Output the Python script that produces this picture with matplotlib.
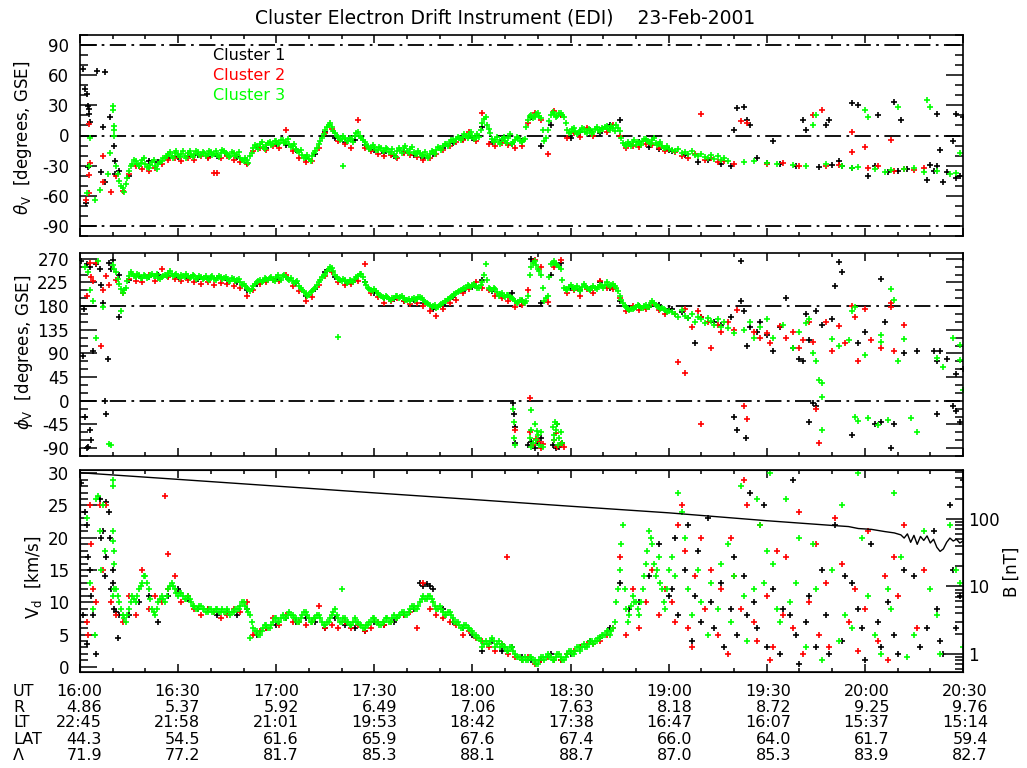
import numpy as np
import matplotlib
matplotlib.use("Agg")
import matplotlib.pyplot as plt
from matplotlib.ticker import MultipleLocator, LogLocator, NullFormatter, FuncFormatter

plt.rcParams["font.family"] = ["DejaVu Sans"]
plt.rcParams["axes.unicode_minus"] = False
plt.rcParams["mathtext.fontset"] = "dejavusans"

# ---------------------------------------------------------------------------
# data (minutes after 16:00 UT)
# ---------------------------------------------------------------------------
t_c3 = np.arange(10, 181, 1)       # Cluster 3 dense sampling
t_c3b = np.arange(10.5, 180, 1)    # Cluster 3, in-between samples
t_c2 = np.arange(11, 180, 2)       # Cluster 2
t_c1 = np.arange(12, 181, 3)       # Cluster 1

theta_c3 = [25, -30, -45, -52, -48, -35, -28, -25, -30, -24,
            -28, -32, -26, -30, -28, -25, -22, -18, -20, -17,
            -19, -18, -20, -17, -19, -18, -16, -19, -17, -18,
            -16, -18, -19, -17, -15, -18, -20, -17, -19, -22,
            -25, -24, -20, -12, -10, -8, -11, -9, -6, -8,
            -5, -7, -4, -6, -8, -10, -13, -16, -19, -21,
            -23, -20, -15, -8, -2, 5, 10, 8, 2, -1,
            -3, -2, -5, -3, 0, 3, -2, -6, -10, -12,
            -11, -14, -12, -15, -13, -16, -18, -15, -14, -12,
            -15, -13, -16, -18, -17, -19, -20, -18, -16, -14,
            -12, -10, -8, -6, -4, -3, -2, -1, 0, 1,
            0, -2, -1, 12, 18, 6, -3, -4, -6, -3,
            -5, -2, -8, -4, -2, -6, -3, 15, 20, 18,
            22, 17, -5, 5, 20, 21, 19, 22, 18, 5,
            3, 7, 1, 4, 6, 2, 5, 3, 8, 4,
            6, 9, 5, 7, 10, 4, -7, -10, -8, -6,
            -9, -7, -5, -3, -6, -4, -7, -8, -10, -12,
            -13]
theta_c3b = [5, -38, -50, -56, -42, -30, -24, -28, -27, -22,
             -31, -29, -24, -33, -26, -22, -20, -16, -22, -15,
             -21, -15, -22, -15, -21, -15, -19, -16, -20, -15,
             -19, -15, -21, -14, -17, -21, -16, -20, -16, -24,
             -22, -27, -17, -9, -13, -6, -13, -7, -9, -5,
             -8, -4, -7, -3, -11, -8, -15, -14, -22, -19,
             -25, -17, -12, -5, 1, 8, 12, 4, 0, -4,
             0, -5, -2, -6, 2, 0, -4, -9, -13, -9,
             -14, -11, -15, -12, -16, -13, -21, -12, -17, -10,
             -17, -11, -18, -15, -20, -16, -22, -15, -18, -11,
             -14, -8, -10, -4, -6, -1, -4, 1, -2, 3,
             -3, 1, 5, 16, 10, 2, -6, -1, -8, -1,
             -7, 1, -6, -1, -5, -4, 8, 19, 17, 21,
             19, 5, -2, 14, 23, 18, 22, 20, 12, 2,
             6, 4, 3, 7, 3, 6, 1, 6, 5, 7,
             8, 6, 9, 4, 7, -2, -9, -6, -10, -4,
             -6, -9, -3, -5, -8, -2, -9, -6, -12, -10]
theta_c2 = [-40, -55, -38, -30, -33, -35, -32, -28, -24, -22,
            -25, -22, -24, -20, -22, -37, -22, -20, -24, -26,
            -28, -15, -12, -14, -10, -12, 5, -15, -22, -26,
            -25, -12, 2, 6, -5, -8, -12, 15, -12, -15,
            -18, -20, -19, -22, -17, -19, -21, -24, -22, -18,
            -14, -10, -6, -4, 3, -5, 22, -8, -10, -7,
            -9, -12, -10, 12, 22, 15, -18, 24, 20, -2,
            2, -1, 7, 0, 5, 3, 10, 0, -12, -10,
            -11, -8, -9, -12, -15]
theta_c1 = [-35, -40, -30, -25, -26, -22, -21, -20, -19, -21,
            -20, -19, -21, -27, -11, -12, -8, -9, -14, -22,
            -18, 3, -2, -6, -4, -9, -14, -17, -20, -16,
            -19, -22, -18, -12, -7, -3, -2, 8, -6, -4,
            -8, -5, 18, -10, 10, 20, -2, 3, 5, 2,
            10, 15, -8, -6, -11, -13, -14]
theta_c3_extra = [(2, -57), (2.8, -30), (3, -2), (4.5, -64), (6, -54), (8.7, -38), (9.2, -17),
                  (10.2, 29), (10.4, 9), (10.5, 0), (80.5, -30),
                  (181, -14), (182, -15), (183, -13), (184, -17), (185, -16), (186, -18), (187, -15),
                  (188, -19), (189, -20), (190, -18), (191, -21), (192, -22), (193, -19), (194, -23),
                  (195, -20), (196, -24), (197, -22), (198, -25), (203, -26), (206, -25), (210, -27),
                  (213, -28), (218, -29), (222, -30), (224, 10), (225, 20), (228, -28), (233, -30),
                  (236, -32), (238, -31), (240, 25), (241, 18), (243, -33), (246, -36), (248, -34),
                  (250, 28), (252, -33), (255, -32), (258, -36), (259, 35), (260, 28), (262, -35),
                  (266, -38), (268, -37), (269, -17)]
theta_c2_extra = [(1.8, -64), (2.6, -57), (2.7, -39), (3, -27), (2.8, 11), (7, -46), (9.6, -56), (7, -20),
                  (42, -37), (182, -16), (184, -20), (186, -22), (188, -18), (190, 21), (191, -24),
                  (193, -22), (195, -26), (197, -25), (200, -28), (202, 14), (204, 12), (210, -28),
                  (215, -27), (220, -30), (224, 20), (227, 25), (228, -30), (232, -29), (236, 3),
                  (236, -16), (240, -11), (241, -32), (244, -30), (248, -4), (249, -35), (252, -33),
                  (255, -34), (258, -32)]
theta_c1_extra = [(1, 66), (1.5, 46), (2, 41), (2.3, 29), (2.6, 26), (2.9, 21), (3.2, 13), (5.2, 64),
                  (7.6, 63), (6.9, 8), (9.2, 18), (10.3, -10), (10.6, -25), (10.8, -38), (2.5, -31),
                  (1.8, -67), (6.3, -36), (7.6, -46), (181, -15), (185, -19), (189, -26), (192, -24),
                  (196, -28), (199, -30), (200, 5), (201, 27), (203, 28), (204, 15), (205, 10),
                  (207, -22), (210, -27), (212, -5), (214, -28), (219, -30), (221, 15), (222, 5),
                  (226, -31), (228, 10), (229, 15), (230, -29), (232, -25), (233, -30), (236, -32),
                  (236, 32), (238, 30), (241, -40), (243, -30), (244, 20), (247, -36), (249, 33),
                  (250, -35), (251, 15), (253, -33), (259, -44), (260, -29), (261, -35), (262, -30),
                  (262, 21), (263, -14), (264, -46), (265, -36), (267, -5), (268, -42), (268, 21),
                  (269, -40), (270, 18)]

phi_c3 = [258, 245, 222, 205, 215, 238, 242, 236, 240, 234,
          238, 236, 242, 238, 234, 236, 240, 243, 241, 239,
          237, 240, 236, 238, 235, 237, 233, 236, 234, 232,
          235, 232, 234, 236, 233, 231, 228, 232, 229, 225,
          222, 215, 208, 218, 225, 230, 228, 232, 234, 230,
          236, 233, 238, 235, 230, 228, 225, 218, 210, 205,
          202, 208, 215, 225, 235, 242, 250, 252, 240, 232,
          228, 230, 226, 228, 232, 238, 242, 225, 215, 210,
          212, 205, 200, 195, 198, 192, 196, 200, 198, 195,
          192, 190, 196, 194, 198, 192, 186, 182, 180, 176,
          182, 186, 190, 195, 200, 205, 208, 212, 215, 218,
          220, 218, 215, 225, 260, 215, 210, 212, 200, 205,
          198, 202, 195, 190, 188, 192, 185, 200, 255, 265,
          250, 240, 190, 200, 260, 265, 258, 250, 215, 210,
          220, 212, 218, 208, 222, 215, 210, 218, 212, 220,
          215, 225, 218, 222, 215, 200, 185, 178, 172, 175,
          178, 180, 176, 182, 178, 190, 182, 178, 176, 172,
          170]
phi_c3b = [250, 232, 212, 210, 228, 244, 237, 241, 233, 239,
           233, 240, 237, 242, 232, 238, 237, 246, 238, 242,
           234, 238, 241, 234, 239, 232, 238, 232, 237, 229,
           237, 230, 237, 231, 235, 227, 233, 228, 231, 221,
           218, 212, 212, 222, 228, 226, 233, 229, 236, 227,
           239, 230, 240, 232, 233, 224, 228, 214, 207, 200,
           206, 212, 220, 230, 238, 247, 254, 246, 236, 229,
           231, 224, 230, 226, 235, 241, 235, 220, 212, 208,
           208, 202, 197, 200, 193, 195, 199, 196, 200, 191,
           194, 193, 191, 198, 195, 188, 184, 178, 183, 179,
           184, 189, 193, 198, 203, 206, 211, 214, 220, 216,
           222, 214, 220, 240, 230, 212, 214, 206, 203, 200,
           201, 197, 193, 186, 191, 188, 190, 240, 262, 258,
           246, 215, 195, 235, 262, 261, 254, 230, 212, 216,
           216, 215, 212, 216, 218, 212, 215, 214, 217, 218,
           220, 221, 220, 218, 208, 192, 181, 175, 174, 177,
           182, 177, 180, 179, 186, 186, 180, 174, 174, 168]
phi_c2 = [230, 205, 232, 228, 225, 240, 228, 250, 235, 232,
          228, 230, 226, 222, 225, 220, 224, 222, 218, 215,
          200, 210, 222, 225, 230, 228, 240, 218, 208, 190,
          198, 220, 238, 245, 225, 220, 222, 228, 260, 205,
          198, 185, 190, 195, 190, 184, 185, 180, 170, 162,
          175, 185, 192, 205, 212, 225, 215, 210, 200, 195,
          190, 178, 182, 210, 268, 255, 188, 255, 268, 205,
          210, 200, 212, 205, 228, 215, 212, 195, 170, 180,
          172, 175, 185, 172, 165]
phi_c1 = [240, 230, 238, 236, 240, 238, 236, 234, 232, 232,
          233, 230, 226, 210, 222, 230, 232, 236, 224, 200,
          212, 245, 236, 228, 230, 226, 205, 195, 194, 190,
          192, 185, 175, 182, 198, 208, 216, 230, 208, 200,
          205, 190, 270, 185, 240, 262, 215, 210, 212, 225,
          215, 190, 175, 180, 178, 182, 175]
phi_c3_extra = [(1.5, 255), (2.5, 245), (3, 210), (4, 190), (5, 120), (5.5, 265), (7, 178), (9, -82),
                (9.5, -85), (12.5, 170), (79, 121),
                (132.5, -15), (132.8, -40), (132.6, -70), (133, -85), (137.5, -70), (138, -55),
                (138.5, -80), (139, -45), (139.5, -75), (140, -65), (140.5, -85), (141, -60),
                (141.5, -88), (137.8, -87), (139.8, -58), (138, -18), (144.5, -50), (145, -65),
                (145.5, -55), (146, -45), (146.5, -70), (147, -60), (147.5, -80), (145.2, -40),
                (146.2, -85), (144.8, -75),
                (181, 168), (182, 165), (183, 160), (184, 172), (185, 162), (186, 158), (187, 165),
                (188, 150), (189, 160), (190, 155), (191, 148), (192, 158), (193, 152), (194, 145),
                (195, 155), (196, 140), (197, 150), (198, 138), (200, 128), (203, 135), (205, 150),
                (206, 120), (208, 140), (210, 155), (212, 120), (215, 145), (218, 100), (220, 130),
                (222, 148), (223, 155), (224, 90), (225, 75), (226, 40), (227, 7), (227, 33),
                (227, -55), (230, 118), (232, 105), (235, 115), (236, 170), (237, 178), (237, -30),
                (238, -38), (240, 88), (241, -33), (244, -46), (245, 125), (245, 112), (247, -36),
                (248, 212), (249, 191), (250, 75), (252, 118), (254, -33), (256, -60), (262, 82),
                (264, 65), (267, 120), (269, 106), (269, 78), (270, 20)]
phi_c2_extra = [(2, 200), (3, 262), (4, 228), (5, 262), (6.5, 105), (7, 210), (8, 238), (9, 220),
                (3.5, 235), (133, -55), (137.5, -60), (138.5, -85), (139.5, -72), (140.5, -78),
                (141, -90), (145, -75), (146, -88), (147, -82), (148, -88), (141.5, -82),
                (145.5, -62), (137.5, 5),
                (182, 165), (183, 73), (185, 52), (185, 175), (187, 140), (189, 170), (190, -45),
                (190, 160), (192, 150), (193, 100), (195, 145), (196, 130), (198, 150), (200, 135),
                (201, 172), (203, -10), (204, -35), (206, 130), (208, 120), (210, 128), (211, 110),
                (214, 142), (216, 120), (218, 130), (220, 100), (221, 115), (223, 150), (224, 112),
                (225, -15), (226, -80), (228, 150), (230, 95), (232, 142), (234, 110), (236, 180),
                (237, 160), (238, 75), (240, 175), (242, 115), (245, 100), (248, 178), (248, 185),
                (249, 95), (252, 145)]
phi_c1_extra = [(0.3, 265), (1, 85), (1.5, -30), (2, -90), (2.5, -88), (3, -55), (3.5, -75), (4, 95),
                (5, 260), (6, 250), (7, 185), (7.5, 0), (8, -25), (8.5, 80), (9, 262), (9.5, 250),
                (10, 268), (2, 260), (3, 255), (6.5, 220), (1.2, 175), (12, 160),
                (132.5, -5), (132.7, -25), (132.9, -50), (133, -80), (137, -85), (138, -78),
                (139, -90), (140, -80), (141, -70), (144.5, -85), (145.5, -90), (146.5, -88),
                (147.5, -80), (146, -45),
                (181, 175), (184, 168), (186, 158), (188, 110), (190, 160), (194, 150), (196, 145),
                (199, 160), (200, -30), (202, 265), (201, -55), (202, 190), (203, 170), (203.5, -70),
                (204, 105), (205, 140), (207, 130), (208, 150), (210, 125), (212, 95), (214, 140),
                (216, 195), (218, 100), (220, 80), (221, 75), (222, 165), (223, 115), (224, -5),
                (225, -10), (223, -40), (225, 170), (227, 145), (230, 155), (231, 218), (232, 263),
                (233, 245), (236, -65), (238, 110), (240, 130), (245, 232), (243, -45), (245, -40),
                (246, 150), (248, -90), (249, -45), (252, 90), (256, 95), (261, 95), (262, -25),
                (262, 75), (263, 95), (265, 80), (267, -10), (268, -20), (268, 50), (269, -40),
                (270, 60)]

vd_c3 = [11, 12, 10, 8, 7, 9, 11, 10, 12, 13,
         14, 12, 9, 8, 10, 11, 10, 12, 13, 12,
         11, 11.5, 10.5, 11, 10, 9.5, 9, 9.5, 9, 8.5,
         9, 8.5, 9, 8.5, 8.5, 9, 8, 8.5, 9, 9.5,
         10, 9, 8, 6, 5.5, 5, 6, 6.5, 6, 7,
         7.5, 7, 8, 7.5, 8.5, 8, 7.5, 7, 8, 8.5,
         7.5, 7, 7.5, 8, 7, 6.5, 7, 8, 9, 7.5,
         7, 7.5, 7, 6.5, 7.5, 7, 6.5, 6, 6.5, 7,
         7.5, 7, 6.5, 7, 7.5, 7, 8, 7.5, 8, 8.5,
         8, 9, 9.5, 9, 10, 11, 10.5, 11, 10, 9,
         9.5, 8.5, 8, 8.5, 7.5, 7, 6.5, 6, 6.5, 6,
         5.5, 5, 4.5, 3, 4, 3.5, 4.5, 3, 4, 3.5,
         3, 2.5, 3, 2, 1.5, 1, 1.5, 1, 1.5, 1,
         0.5, 1.5, 1, 2, 1.5, 1, 2, 1.5, 1, 2,
         2.5, 2, 3, 2.5, 3.5, 3, 4, 3.5, 4, 4.5,
         5, 5.5, 5, 6, 10, 15, 22, 9, 8, 11,
         10, 8, 12, 16, 21, 19, 14, 17, 12, 9,
         15]
vd_c3b = [12, 11, 9, 7.5, 8, 10, 10.5, 11, 12.5, 14,
          13, 10.5, 8.5, 9, 10.5, 10.5, 11, 12.5, 12.5, 11.5,
          11.5, 11, 10.5, 10.5, 9.5, 9, 9.5, 9, 8.5, 9,
          8.5, 9, 8.5, 9, 8.5, 8.5, 8.5, 9, 9, 10,
          9.5, 8.5, 7, 5.5, 5, 5.5, 6.5, 6, 6.5, 7.5,
          7, 7.5, 7.5, 8, 8, 7.5, 7, 7.5, 8.5, 8,
          7, 7.5, 8, 7.5, 6.5, 7, 7.5, 8.5, 8, 7,
          7.5, 7, 6.5, 7, 7, 6.5, 6, 6.5, 7, 7.5,
          7, 6.5, 7, 7.5, 7, 7.5, 7.5, 8, 8.5, 8,
          8.5, 9.5, 9, 9.5, 10.5, 10.5, 11, 10.5, 9.5, 9,
          9, 8, 8.5, 8, 7, 7, 6, 6.5, 6, 5.5,
          5, 4.5, 4, 3.5, 3.5, 4, 4, 3.5, 3, 3,
          2.5, 3, 2.5, 1.5, 1.5, 1, 1, 1.5, 1, 0.5,
          1, 1.5, 1.5, 1.5, 1, 1.5, 2, 1, 1.5, 2.5,
          2, 2.5, 3, 3, 3, 3.5, 4, 4, 4.5, 5,
          5, 5.5, 5.5, 7, 12, 19, 12, 7, 9.5, 10,
          9, 10, 14, 18, 20, 16, 15, 13, 10, 12]
vd_c2 = [8, 7, 11, 8, 15, 9, 11, 10, 12, 14,
         10, 11, 9, 8, 9, 8.5, 7.5, 8, 9, 8.5,
         10, 5, 5.5, 6, 7.5, 6.5, 8, 7, 7, 6.5,
         7, 9.5, 6, 6.5, 6, 7, 6, 6.5, 5.5, 6,
         7, 6.5, 7, 7.5, 8, 8.5, 6, 13, 9, 8,
         7.5, 7, 6.5, 5, 5.5, 4.5, 4, 3, 2.5, 3.5,
         2, 1.5, 1, 1.5, 0.5, 1, 1.5, 1, 1, 2,
         2.5, 3, 3.5, 3.5, 4, 5, 6, 17, 5, 12,
         6, 10, 15, 8, 12]
vd_c1 = [8, 8, 10, 11, 7, 11, 12, 10.5, 9, 9,
         8, 8.5, 8, 9, 5, 6, 6.5, 7.5, 7, 7.5,
         7, 6, 7.5, 6.5, 6, 5.5, 7, 6.5, 7, 8,
         9, 12.5, 12, 9, 7, 6, 5, 2.5, 4, 2.5,
         3, 1.5, 1, 1, 2, 1, 2, 3, 4, 4.5,
         6, 13, 9, 10, 14, 19, 11]
vd_c3_extra = [(2, 23), (3, 13), (4, 9), (4.5, 5), (5.5, 26.5), (6, 21), (6.5, 15), (7.5, 18),
               (10, 29), (10, 28), (10.2, 21), (10.2, 19.5), (10.3, 18), (10.4, 16), (5, 26),
               (7, 25), (52, 4.5), (80, 12),
               (181, 17), (182, 14), (183, 27), (184, 24), (185, 20), (186, 12), (187, 8), (189, 15),
               (190, 10), (192, 5), (193, 13), (195, 9), (196, 16), (198, 19), (199, 7), (200, 14),
               (202, 28), (203, 11), (204, 4), (206, 12), (207, 26), (208, 22), (209, 13), (210, 18),
               (211, 30), (212, 16), (213, 9), (214, 7), (216, 26), (217, 10), (219, 13), (220, 20),
               (222, 3), (224, 19), (225, 12), (227, 1), (230, 15), (232, 4), (233, 25), (234, 8),
               (236, 6), (238, 30), (239, 20), (241, 11), (243, 5), (245, 2), (247, 12), (248, 9),
               (249, 27), (251, 17), (253, 1.5), (255, 5), (258, 21), (260, 12), (262, 8), (263, 2),
               (266, 22), (268, 15), (269, 13), (270, 3)]
vd_c2_extra = [(3, 25), (3.5, 19), (4, 12), (5, 10), (6, 25), (7, 15), (8, 25), (9.5, 10), (2, 7),
               (2.5, 5), (26, 26.5), (27, 17.5), (130.5, 17),
               (181, 10), (182, 7), (183, 22), (184, 25), (185, 18), (186, 6), (187, 3), (188, 14),
               (190, 20), (191, 9), (193, 15), (195, 5), (196, 12), (198, 2), (199, 20), (200, 14),
               (202, 9), (203, 29), (204, 25), (206, 7), (207, 4), (208, 22), (210, 11), (211, 1),
               (212, 3), (213, 18), (215, 8), (216, 17), (218, 6), (220, 24), (221, 2), (223, 10),
               (225, 19), (226, 5), (228, 13), (229, 3), (231, 23), (233, 16), (235, 7), (237, 12),
               (238, 2.5), (240, 9), (241, 21), (244, 4), (246, 14), (247, 1), (249, 17), (250, 11),
               (252, 22), (256, 6), (258, 15)]
vd_c1_extra = [(0.3, 28.5), (1.5, 24), (2, 22), (2.5, 17), (3, 15), (3.5, 11), (4, 8), (1, 8),
               (2, 3.5), (5, 2), (6, 26), (6.5, 20), (8, 25.5), (7, 21), (9, 24), (9.3, 20),
               (9.6, 12), (10, 13), (8, 17), (7.5, 14), (10.5, 9), (11, 8.5), (11.5, 4.5), (10, 15),
               (104, 13), (106, 12.8), (107, 12.5),
               (181, 12), (182, 20), (183, 8), (185, 15), (186, 22), (187, 4), (188, 11), (189, 18),
               (190, 7), (192, 23), (193, 10), (194, 6), (196, 13), (197, 3), (199, 9), (200, 17),
               (201, 5), (203, 14), (204, 8), (205, 27), (206, 10), (207, 6), (209, 25), (210, 3),
               (212, 12), (214, 2), (215, 9), (217, 8), (218, 29), (219, 5), (220, 0.5), (222, 7),
               (223, 11), (225, 3), (227, 15), (228, 8), (229, 2), (231, 22), (233, 4), (234, 14),
               (236, 13), (238, 9), (239, 6), (240, 1), (242, 19), (244, 7), (245, 3), (247, 10),
               (249, 5), (250, 2), (252, 15), (255, 14), (257, 3), (259, 6), (261, 21), (262, 9),
               (263, 4), (264, 2), (266, 25), (267, 15), (268, 6), (269, 11), (270, 29)]

# magnetic field magnitude (right axis)
b_time = [0, 30, 60, 90, 120, 150, 180, 210, 230, 235, 238, 242, 246, 249, 251, 252, 253,
          254, 255, 256, 257, 258, 259, 260, 261, 262, 263, 264, 265, 266, 267, 268, 269, 270]
b_field = [483, 385, 306, 243, 194, 154, 123, 94, 80, 77, 72, 70, 65, 62, 58, 52, 60,
           45, 57, 42, 55, 48, 56, 44, 50, 38, 33, 36, 45, 52, 47, 50, 44, 47]

# orbit table under the plot
row_names = ["UT", "R", "LT", "LAT", "\u039b"]
ut_labels = ["16:00", "16:30", "17:00", "17:30", "18:00", "18:30", "19:00", "19:30", "20:00", "20:30"]
r_vals = ["4.86", "5.37", "5.92", "6.49", "7.06", "7.63", "8.18", "8.72", "9.25", "9.76"]
lt_vals = ["22:45", "21:58", "21:01", "19:53", "18:42", "17:38", "16:47", "16:07", "15:37", "15:14"]
lat_vals = ["44.3", "54.5", "61.6", "65.9", "67.6", "67.4", "66.0", "64.0", "61.7", "59.4"]
inv_vals = ["71.9", "77.2", "81.7", "85.3", "88.1", "88.7", "87.0", "85.3", "83.9", "82.7"]

# ---------------------------------------------------------------------------
# plot
# ---------------------------------------------------------------------------
W, H = 1027, 768
fig = plt.figure(figsize=(W / 100, H / 100), dpi=100)
fig.patch.set_facecolor("white")


def frac(x, y):
    return x / W, 1 - y / H


def panel(top, bottom):
    x0, y0 = frac(80, bottom)
    return fig.add_axes([x0, y0, 883 / W, (bottom - top) / H])


ax1 = panel(35, 236)
ax2 = panel(253, 456)
ax3 = panel(470, 672)

COLORS = {"c1": "black", "c2": "#ff0000", "c3": "#00ff00"}
MK = dict(ls="none", marker="+", ms=4.0, mew=1.2)


def draw(ax, series):
    # series: (colour key, [(times, values), ...], extra points)
    for key, parts, extra in series:
        ts = [np.asarray(t, float) for t, _ in parts] + [np.array([p[0] for p in extra])]
        vs = [np.asarray(v, float) for _, v in parts] + [np.array([p[1] for p in extra])]
        ax.plot(np.concatenate(ts), np.concatenate(vs), color=COLORS[key], **MK)


draw(ax1, [("c1", [(t_c1, theta_c1)], theta_c1_extra),
           ("c2", [(t_c2, theta_c2)], theta_c2_extra),
           ("c3", [(t_c3, theta_c3), (t_c3b, theta_c3b)], theta_c3_extra)])
draw(ax2, [("c1", [(t_c1, phi_c1)], phi_c1_extra),
           ("c2", [(t_c2, phi_c2)], phi_c2_extra),
           ("c3", [(t_c3, phi_c3), (t_c3b, phi_c3b)], phi_c3_extra)])
draw(ax3, [("c1", [(t_c1, vd_c1)], vd_c1_extra),
           ("c2", [(t_c2, vd_c2)], vd_c2_extra),
           ("c3", [(t_c3, vd_c3), (t_c3b, vd_c3b)], vd_c3_extra)])

DASH = dict(color="black", lw=1.3, dashes=(9, 3, 1.5, 3), zorder=1)
for yv in (90, 0, -90):
    ax1.axhline(yv, **DASH)
for yv in (180, 0):
    ax2.axhline(yv, **DASH)

ax1.set_ylim(-100, 100)
ax2.set_ylim(-105, 281)
ax3.set_ylim(-0.8, 30.5)
ax1.yaxis.set_major_locator(MultipleLocator(30))
ax1.yaxis.set_minor_locator(MultipleLocator(10))
ax2.yaxis.set_major_locator(MultipleLocator(45))
ax2.yaxis.set_minor_locator(MultipleLocator(15))
ax3.yaxis.set_major_locator(MultipleLocator(5))
ax3.yaxis.set_minor_locator(MultipleLocator(1))

for ax in (ax1, ax2, ax3):
    ax.set_xlim(0, 270)
    ax.xaxis.set_major_locator(MultipleLocator(30))
    ax.xaxis.set_minor_locator(MultipleLocator(10))
    ax.tick_params(axis="x", which="both", direction="in", top=True, bottom=True,
                   labelbottom=False, width=1.1)
    ax.tick_params(axis="x", which="major", length=6)
    ax.tick_params(axis="x", which="minor", length=3)
    ax.tick_params(axis="y", which="both", direction="in", left=True,
                   right=(ax is not ax3), labelsize=12, pad=8, width=1.1)
    ax.tick_params(axis="y", which="major", length=12)
    ax.tick_params(axis="y", which="minor", length=6)
    for sp in ax.spines.values():
        sp.set_linewidth(1.2)

# magnetic field on a log right axis
axb = ax3.twinx()
axb.set_position(ax3.get_position())
axb.set_yscale("log")
axb.set_ylim(0.54, 530)
axb.plot(b_time, b_field, color="black", lw=1.0)
axb.yaxis.set_major_locator(LogLocator(base=10))
axb.yaxis.set_minor_locator(LogLocator(base=10, subs=np.arange(2, 10)))
axb.yaxis.set_minor_formatter(NullFormatter())
axb.yaxis.set_major_formatter(FuncFormatter(lambda v, p: f"{v:g}"))
axb.tick_params(axis="y", which="both", direction="in", labelsize=12, pad=4, width=1.1)
axb.tick_params(axis="y", which="major", length=12)
axb.tick_params(axis="y", which="minor", length=6)

# titles and labels
fig.text(*frac(505, 18), "Cluster Electron Drift Instrument (EDI)    23-Feb-2001",
         ha="center", va="center", fontsize=13.5)
for i, (name, col) in enumerate([("Cluster 1", "black"), ("Cluster 2", "#ff0000"),
                                 ("Cluster 3", "#00ff00")]):
    fig.text(*frac(213, 56 + 20 * i), name, color=col, ha="left", va="center", fontsize=11.5)

fig.text(*frac(23, 138), r"$\theta_{\rm V}$  [degrees, GSE]", rotation=90,
         ha="center", va="center", fontsize=12)
fig.text(*frac(24, 352), r"$\phi_{\rm V}$  [degrees, GSE]", rotation=90,
         ha="center", va="center", fontsize=12)
fig.text(*frac(34, 577), r"V$_{\rm d}$  [km/s]", rotation=90,
         ha="center", va="center", fontsize=12)
fig.text(*frac(1012, 572), "B [nT]", rotation=90, ha="center", va="center", fontsize=12)

# orbit table
rows = [ut_labels, r_vals, lt_vals, lat_vals, inv_vals]
row_y = [691, 707.5, 722.5, 739, 755]
for name, vals, yy in zip(row_names, rows, row_y):
    fig.text(*frac(13, yy), name, ha="left", va="center", fontsize=11.5)
    for i, s in enumerate(vals):
        fig.text(*frac(102 + i * 98.44, yy), s, ha="right", va="center", fontsize=11.5)

fig.savefig("out.png", dpi=100, facecolor="white")
